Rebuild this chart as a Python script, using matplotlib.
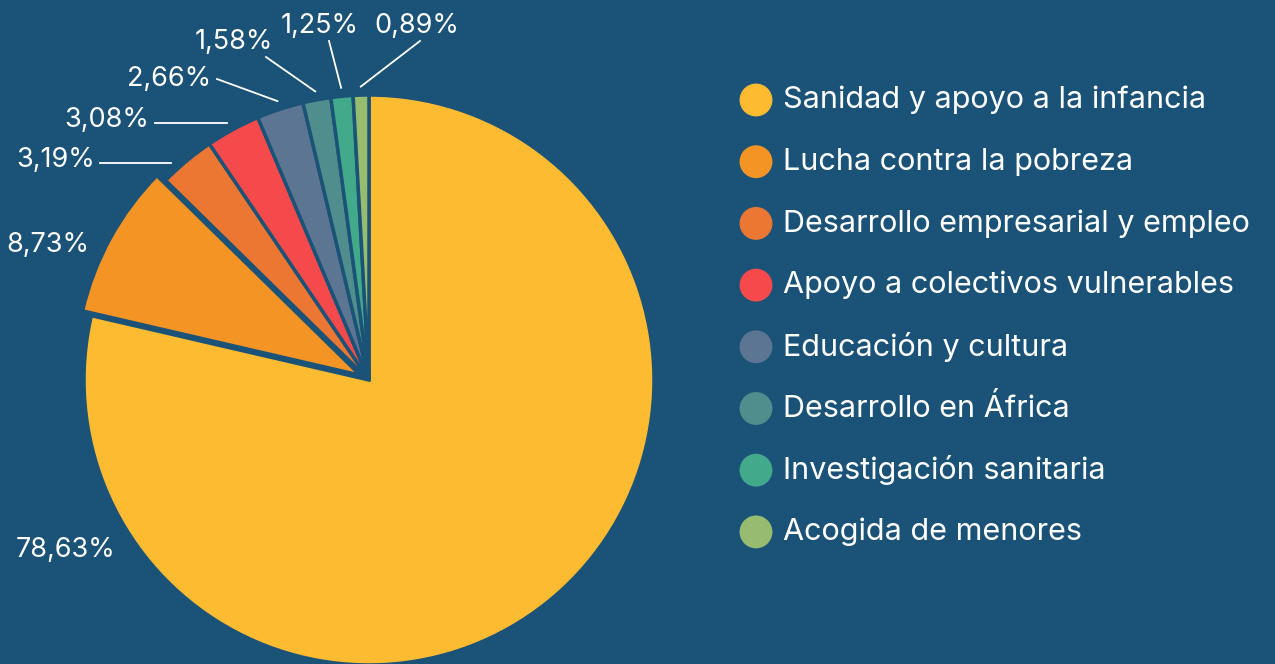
import numpy as np
import matplotlib.pyplot as plt

# data
categories = [
    "Sanidad y apoyo a la infancia",
    "Lucha contra la pobreza",
    "Desarrollo empresarial y empleo",
    "Apoyo a colectivos vulnerables",
    "Educación y cultura",
    "Desarrollo en África",
    "Investigación sanitaria",
    "Acogida de menores",
]
shares = [78.63, 8.73, 3.19, 3.08, 2.66, 1.58, 1.25, 0.89]
colors = ["#FDBB32", "#F39424", "#EB7733", "#F44A4C", "#5B7592",
          "#4F8E8C", "#42A98A", "#97BC6F"]
bg = "#1B5277"

plt.rcParams['font.family'] = ['Inter', 'DejaVu Sans']

W, H = 1275, 664
fig = plt.figure(figsize=(W / 100, H / 100), dpi=100, facecolor=bg)

# pie centre / radius in pixels
cx, cy, R = 369, 380, 285
ax = fig.add_axes([(cx - R) / W, (H - cy - R) / H, 2 * R / W, 2 * R / H])
ax.set_facecolor(bg)

explode = [0, 0.035, 0, 0, 0, 0, 0, 0]
wedges, _ = ax.pie(shares, colors=colors, startangle=90, counterclock=False,
                   explode=explode, radius=1,
                   wedgeprops=dict(edgecolor=bg, linewidth=2.5))
ax.set_xlim(-1, 1)
ax.set_ylim(-1, 1)
ax.axis("off")


def px(x, y):
    # pixel position -> pie data coords
    return (x - cx) / R, (cy - y) / R


# label placement (pixel coords): text pos, alignment, line end, flat line
label_pos = [
    ((66, 550), "center", None, False),
    ((48, 245), "center", None, False),
    ((95, 160), "right", (100, 163), True),
    ((149, 120), "right", (155, 123), True),
    ((211, 79), "right", (217, 79), False),
    ((234, 42), "center", (266, 57), False),
    ((320, 26), "center", (329, 41), False),
    ((417, 26), "center", (420, 41), False),
]

r_line = 1.03
for w, val, (tpos, ha, lend, flat) in zip(wedges, shares, label_pos):
    txt = f"{val:.2f}%".replace(".", ",")
    tx, ty = px(*tpos)
    ax.text(tx, ty, txt, color="white", fontsize=19.5, ha=ha, va="center",
            clip_on=False)
    if lend is not None:
        ex, ey = px(*lend)
        if flat:
            sy = ey
            sx = -np.sqrt(r_line ** 2 - sy ** 2)
        else:
            mid = np.deg2rad((w.theta1 + w.theta2) / 2)
            sx, sy = r_line * np.cos(mid), r_line * np.sin(mid)
        ax.plot([sx, ex], [sy, ey], color="white", lw=1.3, clip_on=False)

# legend drawn on a full-figure overlay
lax = fig.add_axes([0, 0, 1, 1])
lax.set_xlim(0, W)
lax.set_ylim(H, 0)
lax.axis("off")
for i, (name, c) in enumerate(zip(categories, colors)):
    y = 100 + i * 61.7
    lax.scatter([756], [y], s=560, color=c, edgecolors="none")
    lax.text(783, y, name, color="white", fontsize=22, ha="left", va="center")

fig.savefig("out.png", dpi=100, facecolor=bg)
